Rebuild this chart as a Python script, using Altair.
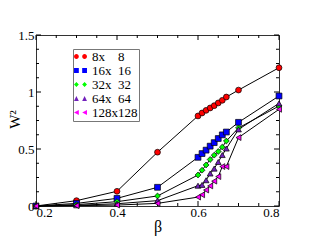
import altair as alt
import pandas as pd

beta = [0.2, 0.3, 0.4, 0.5, 0.6, 0.61, 0.62, 0.63, 0.64, 0.65, 0.66, 0.67, 0.7, 0.8]
w8 = [0.0, 0.047, 0.129, 0.472, 0.79, 0.816, 0.839, 0.86, 0.88, 0.904, 0.927, 0.956, 1.017, 1.213]
w16 = [0.0, 0.023, 0.067, 0.164, 0.427, 0.46, 0.49, 0.525, 0.556, 0.592, 0.624, 0.649, 0.734, 0.965]
w32 = [0.0, 0.012, 0.038, 0.088, 0.272, 0.314, 0.36, 0.408, 0.446, 0.478, 0.517, 0.57, 0.685, 0.877]
w64 = [0.0, 0.006, 0.02, 0.047, 0.178, 0.185, 0.226, 0.285, 0.328, 0.386, 0.447, 0.504, 0.672, 0.90]
w128 = [0.0, 0.003, 0.008, 0.023, 0.078, 0.098, 0.14, 0.176, 0.218, 0.258, 0.346, 0.346, 0.60, 0.848]

NB = "\u00a0"
names = [NB * 4 + "8x" + NB * 4 + "8", NB * 2 + "16x" + NB * 2 + "16", NB * 2 + "32x" + NB * 2 + "32",
         NB * 2 + "64x" + NB * 2 + "64", "128x128"]
colors = ["#ff0000", "#0000ff", "#00ff00", "#7221bc", "#ff00ff"]
shapes = ["circle", "square", "diamond", "triangle-up", "triangle-left"]

x_major = [0.2, 0.4, 0.6, 0.8]
x_minor = [0.25, 0.3, 0.35, 0.45, 0.5, 0.55, 0.65, 0.7, 0.75]
y_major = [0.0, 0.5, 1.0, 1.5]
y_minor = [0.125, 0.25, 0.375, 0.625, 0.75, 0.875, 1.125, 1.25, 1.375]

series = [w8, w16, w32, w64, w128]
rows = []
for name, vals in zip(names, series):
    for b, v in zip(beta, vals):
        rows.append({"beta": b, "w2": v, "series": name})
df = pd.DataFrame(rows)

# legend glyphs: marker - line - marker
r = 0.4
c = 0.68
def glyph(kind):
    link = f"M{-c},0L{c},0"
    parts = []
    for cx in (-c, c):
        if kind == "circle":
            parts.append(f"M{cx-r},0A{r},{r} 0 1,0 {cx+r},0A{r},{r} 0 1,0 {cx-r},0Z")
        elif kind == "square":
            parts.append(f"M{cx-r},{-r}L{cx+r},{-r}L{cx+r},{r}L{cx-r},{r}Z")
        elif kind == "diamond":
            parts.append(f"M{cx},{-r}L{cx+r},0L{cx},{r}L{cx-r},0Z")
        elif kind == "triangle-up":
            parts.append(f"M{cx},{-r}L{cx+r},{r}L{cx-r},{r}Z")
        else:
            parts.append(f"M{cx-r},0L{cx+r},{-r}L{cx+r},{r}Z")
    return link + "".join(parts)
legend_paths = [glyph(s) for s in shapes]

W, H = 243, 171
FONT = "Liberation Serif"

x_enc = alt.X("beta:Q", scale=alt.Scale(domain=[0.2, 0.8], nice=False, zero=False),
              axis=alt.Axis(values=x_major, format=".1f", title="β", ticks=False, domain=False,
                            grid=False, labelFont=FONT, labelFontSize=13, labelPadding=0,
                            labelColor="black", titleFont=FONT, titleFontSize=16,
                            titleFontWeight="normal", titleColor="black",
                            titleX=121.5, titleY=20, titleBaseline="middle", titleAlign="center"))
y_enc = alt.Y("w2:Q", scale=alt.Scale(domain=[0, 1.5], nice=False, zero=False),
              axis=alt.Axis(values=y_major, format="~g", title="W²", ticks=False, domain=False,
                            grid=False, labelFont=FONT, labelFontSize=13, labelPadding=2,
                            labelColor="black", titleFont=FONT, titleFontSize=15,
                            titleFontWeight="normal", titleColor="black",
                            titleX=-22, titleY=84, titleBaseline="middle", titleAlign="center",
                            titleAngle=-90))

xmaj = pd.DataFrame({"beta": x_major})
xmin = pd.DataFrame({"beta": x_minor})
ymaj = pd.DataFrame({"w2": y_major})
ymin = pd.DataFrame({"w2": y_minor})

def xticks(d, L):
    bot = alt.Chart(d).mark_rule(color="black", strokeWidth=1).encode(
        x=x_enc, y=alt.value(H), y2=alt.value(H - L))
    top = alt.Chart(d).mark_rule(color="black", strokeWidth=1).encode(
        x=x_enc, y=alt.value(0), y2=alt.value(L))
    return [bot, top]

def yticks(d, L):
    left = alt.Chart(d).mark_rule(color="black", strokeWidth=1).encode(
        y=y_enc, x=alt.value(0), x2=alt.value(L))
    right = alt.Chart(d).mark_rule(color="black", strokeWidth=1).encode(
        y=y_enc, x=alt.value(W), x2=alt.value(W - L))
    return [left, right]

ticks = xticks(xmaj, 5) + xticks(xmin, 3) + yticks(ymaj, 5) + yticks(ymin, 3)

lines = alt.Chart(df).mark_line(color="black", strokeWidth=1).encode(
    x=x_enc, y=y_enc, detail="series:N")

points = alt.Chart(df).mark_point(filled=True, size=34, stroke="black", strokeWidth=0.7, opacity=1).encode(
    x=x_enc, y=y_enc,
    fill=alt.Fill("series:N", scale=alt.Scale(domain=names, range=colors), legend=None),
    shape=alt.Shape("series:N", scale=alt.Scale(domain=names, range=shapes), legend=None))

leg = dict(orient="none", legendX=37, legendY=14, title=None, fillColor="white",
           strokeColor="#777", padding=1, labelFont=FONT, labelFontSize=13, labelColor="black",
           labelOffset=5, rowPadding=-1, symbolSize=144, symbolStrokeColor="black",
           symbolStrokeWidth=0.8, symbolOpacity=1)

legend_layer = alt.Chart(df).transform_filter("datum.beta < 0").mark_point(
    filled=True, size=144, stroke="black", strokeWidth=0.8, opacity=1).encode(
    x=x_enc, y=y_enc,
    fill=alt.Fill("series:N", scale=alt.Scale(domain=names, range=colors), legend=alt.Legend(**leg)),
    shape=alt.Shape("series:N", scale=alt.Scale(domain=names, range=legend_paths), legend=alt.Legend(**leg)))

chart = alt.layer(*ticks, lines, points, legend_layer).resolve_scale(
    fill="independent", shape="independent"
).properties(
    width=W, height=H,
    autosize=alt.AutoSizeParams(type="none"),
    padding={"left": 28, "top": 27, "right": 20, "bottom": 35},
    background="white",
).configure_view(stroke="#333", strokeWidth=1)

chart.save("out.html", embed_options={"renderer": "svg", "actions": False})
